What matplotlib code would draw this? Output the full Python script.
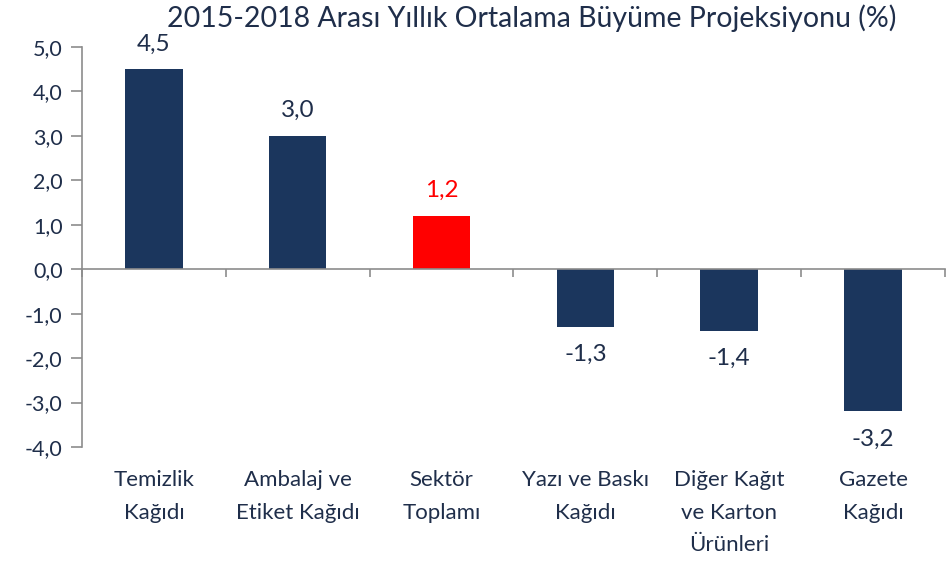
import numpy as np
import matplotlib.pyplot as plt
import matplotlib.transforms as mtransforms

# ----- DANE -----
kategoriler = ["Temizlik\nKağıdı", "Ambalaj ve\nEtiket Kağıdı", "Sektör\nToplamı",
               "Yazı ve Baskı\nKağıdı", "Diğer Kağıt\nve Karton\nÜrünleri", "Gazete\nKağıdı"]
degerler = [4.5, 3.0, 1.2, -1.3, -1.4, -3.2]
vurgu = 2  # Sektör Toplamı

lacivert = "#1B365D"
kirmizi = "#FF0000"
yazi_renk = "#1F2E4A"
gri = "#8C8C8C"

plt.rcParams['font.family'] = ['Lato', 'DejaVu Sans']

fig = plt.figure(figsize=(9.53, 5.62), dpi=100)
ax = fig.add_axes([0.086, 0.2046, 0.9056, 0.7118])

x = np.arange(len(degerler))
renkler = [kirmizi if i == vurgu else lacivert for i in range(len(degerler))]
ax.bar(x, degerler, width=0.4, color=renkler, zorder=2)

ax.set_xlim(-0.5, len(degerler) - 0.5)
ax.set_ylim(-4, 5)
ax.set_yticks(np.arange(-4, 6, 1))
ax.set_yticklabels([f"{v:.1f}".replace(".", ",") for v in np.arange(-4, 6, 1)],
                   fontsize=15.5, color=yazi_renk)
ax.tick_params(axis='y', length=8, width=1.2, color=gri, pad=6)

# sıfır çizgisi ve kategori sınırlarındaki çentikler
for s in ['top', 'right']:
    ax.spines[s].set_visible(False)
ax.spines['left'].set_color(gri)
ax.spines['left'].set_linewidth(1.2)
ax.spines['bottom'].set_position(('data', 0))
ax.spines['bottom'].set_color(gri)
ax.spines['bottom'].set_linewidth(1.2)
ax.set_xticks(np.arange(-0.5, len(degerler), 1))
ax.set_xticklabels([])
ax.tick_params(axis='x', length=6, width=1.2, color=gri)

# kategori etiketleri eksenin altında
trans = mtransforms.blended_transform_factory(ax.transData, ax.transAxes)
for i, k in enumerate(kategoriler):
    ax.text(i, -0.058, k, transform=trans, ha='center', va='top',
            fontsize=16, color=yazi_renk, linespacing=1.78)

# değer etiketleri
for i, v in enumerate(degerler):
    metin = f"{v:.1f}".replace(".", ",")
    renk = kirmizi if i == vurgu else yazi_renk
    if v >= 0:
        ax.text(i, v + 0.33, metin, ha='center', va='bottom', fontsize=17.5, color=renk)
    else:
        ax.text(i, v - 0.38, metin, ha='center', va='top', fontsize=17.5, color=renk)

fig.text(0.558, 0.968, "2015-2018 Arası Yıllık Ortalama Büyüme Projeksiyonu (%)",
         ha='center', va='center', fontsize=20.5, color=yazi_renk)

plt.savefig("out.png", dpi=100)
